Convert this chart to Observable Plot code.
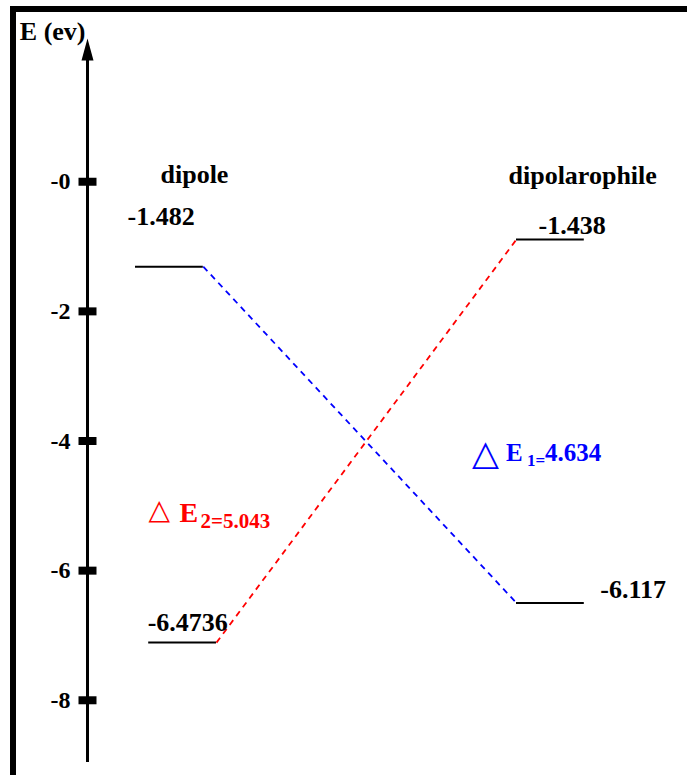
<!DOCTYPE html>
<html><head><meta charset="utf-8">
<script src="https://cdn.jsdelivr.net/npm/d3@7"></script>
<script src="https://cdn.jsdelivr.net/npm/@observablehq/plot@0.6"></script>
<style>
html,body{margin:0;padding:0;background:#fff;}
#wrap{position:relative;width:687px;height:775px;overflow:hidden;background:#fff;}
#chart{position:absolute;left:0;top:0;}
#frame{position:absolute;left:10px;top:6px;right:0;bottom:-10px;border-top:6px solid #000;border-left:6px solid #000;pointer-events:none;}
</style></head><body>
<div id="wrap"><div id="chart"></div><div id="frame"></div></div>
<script>
// ---- data ----
const yTicks = [0, -2, -4, -6, -8];
const tickLabels = ["-0", "-2", "-4", "-6", "-8"];
const axisLabel = "E (ev)";
const yBottom = -8.96;   // lower end of the energy axis
const yTop = 2.21;       // tip of the energy axis arrow

const molecules = ["dipole", "dipolarophile"];
const levelMolecule = ["dipole", "dipole", "dipolarophile", "dipolarophile"];
const levelOrbital = ["LUMO", "HOMO", "LUMO", "HOMO"];
const levelLabels = ["-1.482", "-6.4736", "-1.438", "-6.117"];
const levelEnergy = [-1.31, -7.11, -0.89, -6.50];   // as drawn against the axis
const levelFrom = [0.80, 1.02, 7.15, 7.15];
const levelTo = [1.93, 2.15, 8.28, 8.28];

const gapIndex = ["1", "2"];
const gapValues = ["4.634", "5.043"];
const gapFromLevel = [0, 1];  // dipole LUMO -> dipolarophile HOMO, dipole HOMO -> dipolarophile LUMO
const gapToLevel = [3, 2];
const gapColors = ["#0000ff", "#ff0000"];

// ---- build ----
const levels = levelLabels.map((label, i) => ({
  mol: levelMolecule[i], orb: levelOrbital[i], label,
  e: levelEnergy[i], x1: levelFrom[i], x2: levelTo[i]
}));
const gaps = gapValues.map((v, i) => {
  const a = levels[gapFromLevel[i]], b = levels[gapToLevel[i]];
  return {idx: gapIndex[i], value: v, color: gapColors[i],
    x1: a.x2, y1: a.e, x2: b.x1, y2: b.e,
    mx: (a.x2 + b.x1) / 2, my: (a.e + b.e) / 2};
});
const headers = molecules.map(m => {
  const lv = levels.find(d => d.mol === m && d.orb === "LUMO");
  return {text: m, x: lv.x1, y: yTicks[0]};
});

const serif = "'Liberation Serif', 'Times New Roman', serif";

const arrowHead = {draw(ctx) { ctx.moveTo(0, 0); ctx.lineTo(6, 22); ctx.lineTo(-6, 22); ctx.closePath(); }};
const tickRect = {draw(ctx) { ctx.rect(-9, -4, 18, 8); }};

const labelStyle = [
  {at: "x1", dx: -8, dy: -42},
  {at: "x1", dx: -1, dy: -12},
  {at: "x1", dx: 22, dy: -5},
  {at: "x2", dx: 16, dy: -5}
];
const headerStyle = [{dx: 25, dy: 1}, {dx: -8, dy: 2}];

// annotation pieces: triangle, E, subscript, main value
const gapPieces = [
  [
    {text: () => "△", font: "'DejaVu Sans'", size: 35, weight: "bold", dx: 112, dy: 30},
    {text: () => "E", size: 25, dx: 146, dy: 26},
    {text: d => d.idx + "=", size: 17, dx: 167, dy: 31},
    {text: d => d.value, size: 25, dx: 185, dy: 26}
  ],
  [
    {text: () => "△", font: "'DejaVu Sans'", size: 28, weight: "bold", dx: -218, dy: 78},
    {text: () => "E", size: 28, dx: -187, dy: 81},
    {text: d => d.idx + "=" + d.value, size: 21, dx: -166, dy: 87}
  ]
];

const marks = [
  Plot.ruleX([{x: 0}], {x: "x", y1: yBottom, y2: yTop - 0.25, strokeWidth: 3, stroke: "black"}),
  Plot.dot([{x: 0, y: yTop}], {x: "x", y: "y", symbol: arrowHead, r: 1, fill: "black", stroke: "none"}),
  Plot.dot(yTicks, {x: () => 0, y: d => d, symbol: tickRect, r: 1, fill: "black", stroke: "none"}),
  Plot.axisY({ticks: yTicks, anchor: "left", tickSize: 0, tickPadding: 17, label: null,
    tickFormat: d => tickLabels[yTicks.indexOf(d)], fontSize: 24, fontWeight: "bold", fill: "black"}),
  Plot.text([{x: 0, y: yTop, t: axisLabel}], {x: "x", y: "y", text: "t", textAnchor: "end", lineAnchor: "bottom",
    dx: -2, dy: 1, fontSize: 26, fontWeight: "bold", fill: "black"}),
  Plot.ruleY(levels, {y: "e", x1: "x1", x2: "x2", stroke: "black", strokeWidth: 2}),
  Plot.link(gaps, {x1: "x1", y1: "y1", x2: "x2", y2: "y2", stroke: "color", strokeWidth: 1.8, strokeDasharray: "6,5"}),
  ...levels.map((lv, i) => Plot.text([lv], {x: labelStyle[i].at, y: "e", text: "label",
    textAnchor: "start", lineAnchor: "bottom", dx: labelStyle[i].dx, dy: labelStyle[i].dy,
    fontSize: 26, fontWeight: "bold", fill: "black"})),
  ...headers.map((h, i) => Plot.text([h], {x: "x", y: "y", text: "text", textAnchor: "start", lineAnchor: "bottom",
    dx: headerStyle[i].dx, dy: headerStyle[i].dy, fontSize: 26, fontWeight: "bold", fill: "black"})),
  ...gaps.flatMap((g, i) => gapPieces[i].map(p => Plot.text([g], {x: "mx", y: "my", text: p.text,
    textAnchor: "start", lineAnchor: "bottom", dx: p.dx, dy: p.dy, fontSize: p.size,
    fontWeight: p.weight || "bold", fontFamily: p.font || serif, fill: g.color})))
];

const chart = Plot.plot({
  width: 687, height: 775,
  marginLeft: 87, marginTop: 38, marginBottom: 13, marginRight: 0,
  x: {domain: [0, 10], range: [87, 687], axis: null},
  y: {domain: [yBottom, yTop], range: [762, 38], axis: null},
  style: {fontFamily: serif, color: "black", background: "transparent", overflow: "visible"},
  marks
});
document.getElementById("chart").appendChild(chart);
</script>
</body></html>
